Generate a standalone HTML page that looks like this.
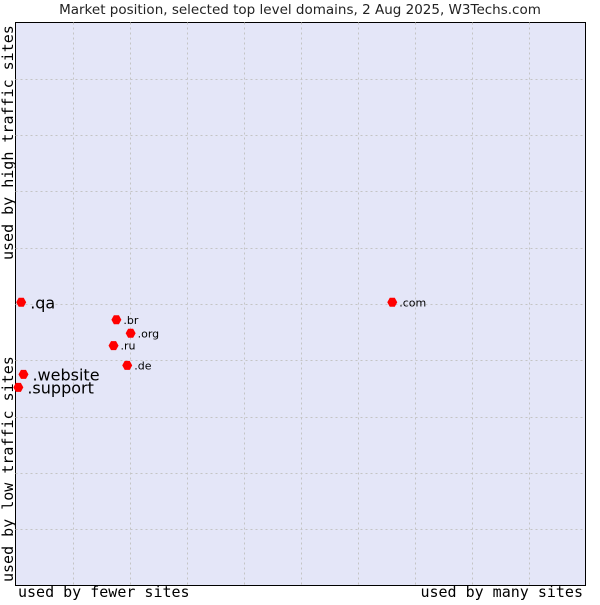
<!DOCTYPE html>
<html><head><meta charset="utf-8"><style>
body{margin:0;background:#fff;width:600px;height:600px;overflow:hidden}
svg text{font-family:"DejaVu Sans","Liberation Sans",sans-serif}
.mono{font-family:"DejaVu Sans Mono","Liberation Mono",monospace}
</style></head><body>
<svg id="c" width="600" height="600">
<text x="300" y="14" text-anchor="middle" font-size="13.5" fill="#222">Market position, selected top level domains, 2 Aug 2025, W3Techs.com</text>
<rect x="15.5" y="22.5" width="570" height="563" fill="#e4e6f8" stroke="#000"/>
<g id="grid"></g>
<g id="pts"></g>
<text class="mono" x="18" y="597" font-size="15" fill="#000">used by fewer sites</text>
<text class="mono" x="583" y="597" font-size="15" text-anchor="end" fill="#000">used by many sites</text>
<text class="mono" transform="translate(13,260) rotate(-90)" font-size="15" fill="#000">used by high traffic sites</text>
<text class="mono" transform="translate(13,582) rotate(-90)" font-size="15" fill="#000">used by low traffic sites</text>
</svg>
<script>
const labels=[".qa",".website",".support",".br",".org",".ru",".de",".com"];
const xVals=[0.1,0.14,0.05,1.77,2.02,1.72,1.96,6.61];
const yVals=[5.03,3.75,3.52,4.72,4.48,4.26,3.91,5.03];
const bigLabel=[true,true,true,false,false,false,false,false];
const L=15.5,R=585.5,T=22.5,B=585.5;
function sx(v){return L+(R-L)*v/10;}
function sy(v){return B-(B-T)*v/10;}
const NS="http://www.w3.org/2000/svg";
const g=document.getElementById('grid');
for(let i=1;i<10;i++){
 const v=document.createElementNS(NS,'line');
 
 
 v.setAttribute('x1',Math.round(sx(i))+0.5);v.setAttribute('x2',Math.round(sx(i))+0.5);
 v.setAttribute('y1',T);v.setAttribute('y2',B);
 v.setAttribute('stroke','#c4c4c4');v.setAttribute('stroke-dasharray','2,3');
 g.appendChild(v);
 const h=document.createElementNS(NS,'line');
 
 
 h.setAttribute('y1',Math.round(sy(i))+0.5);h.setAttribute('y2',Math.round(sy(i))+0.5);
 h.setAttribute('x1',L);h.setAttribute('x2',R);
 h.setAttribute('stroke','#c4c4c4');h.setAttribute('stroke-dasharray','2,3');
 g.appendChild(h);
}
const p=document.getElementById('pts');
labels.forEach((lab,i)=>{
 const x=sx(xVals[i]),y=sy(yVals[i]);
 const d=document.createElementNS(NS,'path');
 
 
 d.setAttribute('d',`M${x-5},${y} L${x-2.5},${y-4.5} L${x+2.5},${y-4.5} L${x+5},${y} L${x+2.5},${y+4.5} L${x-2.5},${y+4.5} Z`);
 d.setAttribute('fill','#f00');
 p.appendChild(d);
 const t=document.createElementNS(NS,'text');
 
 
 t.setAttribute('x',x+(bigLabel[i]?9:7));
 t.setAttribute('y',y+(bigLabel[i]?6:4));
 t.setAttribute('font-size',bigLabel[i]?16:11);
 t.setAttribute('fill','#000');
 t.textContent=lab;
 p.appendChild(t);
});
</script>
</body></html>
